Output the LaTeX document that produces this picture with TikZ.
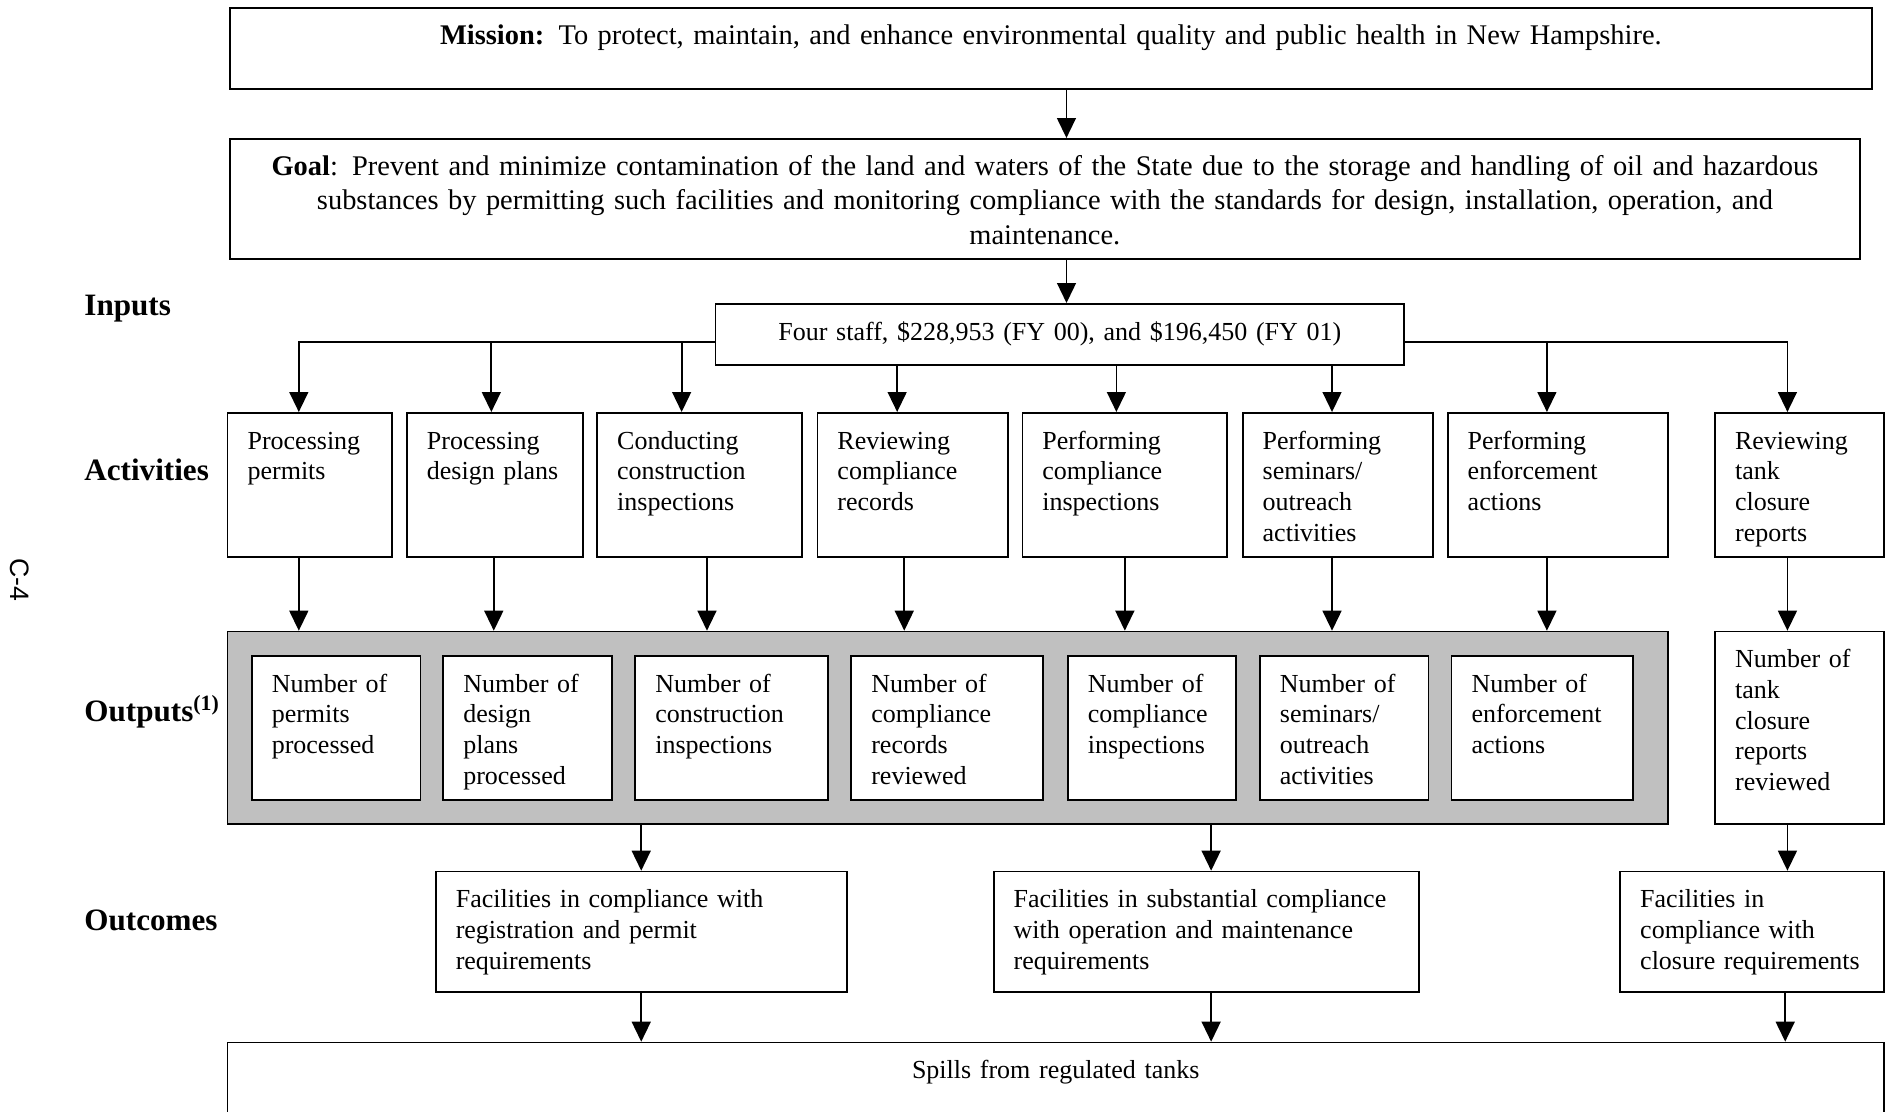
\documentclass[tikz,border=0pt]{standalone}
\usepackage{fontspec}
\setmainfont{Liberation Serif}
\setsansfont{Liberation Sans}
\usetikzlibrary{arrows.meta}
\hyphenpenalty=10000
\exhyphenpenalty=10000
\definecolor{panelgray}{HTML}{C0C0C0}
\tikzstyle{box} = [rectangle, draw=black, line width=0.8pt, anchor=north west,
inner xsep=9pt, inner ysep=0pt, text height=16.3pt, align=left,
font=\fontsize{11.7}{13.8}\selectfont]
\tikzstyle{topbox} = [box, align=center]
\tikzstyle{activity} = [box, text depth=48.5pt]
\tikzstyle{output} = [box, fill=white, text depth=48.5pt]
\tikzstyle{outcome} = [box, text depth=37.8pt]
\tikzstyle{panel} = [rectangle, draw=black, line width=0.8pt, fill=panelgray,
anchor=north west, inner sep=0pt]
\tikzstyle{rowlabel} = [anchor=base west, inner sep=0pt,
font=\fontsize{14}{16}\selectfont\bfseries]
\tikzstyle{arrow} = [line width=0.8pt,-{Triangle[length=9pt,width=8.5pt]}]
\tikzset{nudge/.style={transform canvas={xshift=#1}}}

\begin{document}
\begin{tikzpicture}[x=0.45pt,y=-0.45pt]
              \useasboundingbox (0,0) rectangle (1889,1111);
              \clip (0,0) rectangle (1889,1111);

              \node (page) [rotate=-90, font=\sffamily\fontsize{12}{14}\selectfont] at (20,580) {C-4};
              \node (lblin) [rowlabel] at (84,315) {Inputs};
              \node (lblact) [rowlabel] at (84,480) {Activities};
              \node (lblout) [rowlabel] at (84,721.7) {Outputs\textsuperscript{(1)}};
              \node (lbloc) [rowlabel] at (84,930.7) {Outcomes};

              \node (mission) [topbox, text width=720.9pt, text depth=20.2pt,
              font=\fontsize{12.8}{15.6}\selectfont] at (229,7)
              {\textbf{Mission:} To protect, maintain, and enhance environmental quality and public health in New Hampshire.};
              \node (goal) [topbox, text width=715.5pt, text depth=37.6pt,
              font=\fontsize{12.8}{15.6}\selectfont] at (229,138)
              {\textbf{Goal}: Prevent and minimize contamination of the land and waters of the State due to the storage and handling of oil and hazardous\\
              substances by permitting such facilities and monitoring compliance with the standards for design, installation, operation, and\\
              maintenance.};
              \node (inputs) [topbox, text width=292pt, text depth=11.2pt] at (714.5,303)
              {Four staff, \$228,953 (FY 00), and \$196,450 (FY 01)};

              \node (act1) [activity, text width=55.9pt] at (226.7,412) {Processing\\permits};
              \node (act2) [activity, text width=61.2pt] at (406,412) {Processing\\design~plans};
              \node (act3) [activity, text width=74.2pt] at (596.3,412) {Conducting\\construction\\inspections};
              \node (act4) [activity, text width=67.7pt] at (816.6,412) {Reviewing\\compliance\\records};
              \node (act5) [activity, text width=74.2pt] at (1021.5,412) {Performing\\compliance\\inspections};
              \node (act6) [activity, text width=67.8pt] at (1241.8,412) {Performing\\seminars/\\outreach\\activities};
              \node (act7) [activity, text width=81.1pt] at (1446.8,412) {Performing\\enforcement\\actions};
              \node (act8) [activity, text width=57.9pt] at (1714.2,412) {Reviewing\\tank\\closure\\reports};

              \node (outs) [panel, minimum width=648.3pt, minimum height=86.7pt] at (226.7,630.7) {};
              \node (out1) [output, text width=57.9pt] at (250.9,655) {Number~of\\permits\\processed};
              \node (out2) [output, text width=58pt] at (442.4,655) {Number~of\\design\\plans\\processed};
              \node (out3) [output, text width=68.8pt] at (634.4,655) {Number~of\\construction\\inspections};
              \node (out4) [output, text width=68.2pt] at (850.4,655) {Number~of\\compliance\\records\\reviewed};
              \node (out5) [output, text width=57.7pt] at (1067,655) {Number~of\\compliance\\inspections};
              \node (out6) [output, text width=57.9pt] at (1259,655) {Number~of\\seminars/\\outreach\\activities};
              \node (out7) [output, text width=63.8pt] at (1450.7,655) {Number~of\\enforcement\\actions};
              \node (out8) [output, text width=57.9pt, text depth=70.4pt] at (1714.2,630.7)
              {Number~of\\tank\\closure\\reports\\reviewed};

              \node (oc1) [outcome, text width=166.9pt] at (434.9,870.7)
              {Facilities~in~compliance~with\\registration~and~permit\\requirements};
              \node (oc2) [outcome, text width=173.3pt] at (992.8,870.7)
              {Facilities~in~substantial~compliance\\with~operation~and~maintenance\\requirements};
              \node (oc3) [outcome, text width=100.7pt] at (1619.3,870.7)
              {Facilities~in\\compliance~with\\closure~requirements};

              \node (final) [topbox, text width=727.3pt, text depth=73.7pt] at (226.7,1041.7)
              {Spills from regulated tanks};

              \coordinate (m2g) at ([xshift=7pt]mission.south);
              \coordinate (g2i) at ([xshift=3pt]inputs.north);
              \coordinate (busL) at ([yshift=-3.4pt]inputs.west);
              \coordinate (busR) at ([yshift=-3.4pt]inputs.east);

              \draw [arrow] (m2g) -- (m2g |- goal.north);
              \draw [arrow] (g2i |- goal.south) -- (g2i);
              \draw [arrow] (busL) -| ([xshift=-4.9pt]act1.north);
              \draw [arrow] (busL) -| ([xshift=-1.6pt]act2.north);
              \draw [arrow] (busL) -| ([xshift=-8.1pt]act3.north);
              \draw [arrow, nudge=-7pt] (inputs.south -| act4.north) -- (act4.north);
              \draw [arrow, nudge=-3.8pt] (inputs.south -| act5.north) -- (act5.north);
              \draw [arrow, nudge=-2.7pt] (inputs.south -| act6.north) -- (act6.north);
              \draw [arrow] (busR) -| ([xshift=-4.9pt]act7.north);
              \draw [arrow] (busR) -| ([xshift=-5.4pt]act8.north);

              \draw [arrow, nudge=-4.9pt] (act1.south) -- (act1.south |- outs.north);
              \draw [arrow, nudge=-0.5pt] (act2.south) -- (act2.south |- outs.north);
              \draw [arrow, nudge=3.3pt] (act3.south) -- (act3.south |- outs.north);
              \draw [arrow, nudge=-3.8pt] (act4.south) -- (act4.south |- outs.north);
              \draw [arrow] (act5.south) -- (act5.south |- outs.north);
              \draw [arrow, nudge=-2.7pt] (act6.south) -- (act6.south |- outs.north);
              \draw [arrow, nudge=-4.9pt] (act7.south) -- (act7.south |- outs.north);
              \draw [arrow, nudge=-5.4pt] (act8.south) -- (out8.north);

              \draw [arrow] (outs.south -| oc1.north) -- (oc1.north);
              \draw [arrow, nudge=2.2pt] (outs.south -| oc2.north) -- (oc2.north);
              \draw [arrow, nudge=-5.4pt] (out8.south) -- (out8.south |- oc3.north);
              \draw [arrow] (oc1.south) -- (oc1.south |- final.north);
              \draw [arrow, nudge=2.2pt] (oc2.south) -- (oc2.south |- final.north);
              \draw [arrow, nudge=-6.4pt] (oc3.south -| out8.south) -- (final.north -| out8.south);
            \end{tikzpicture}
\end{document}
